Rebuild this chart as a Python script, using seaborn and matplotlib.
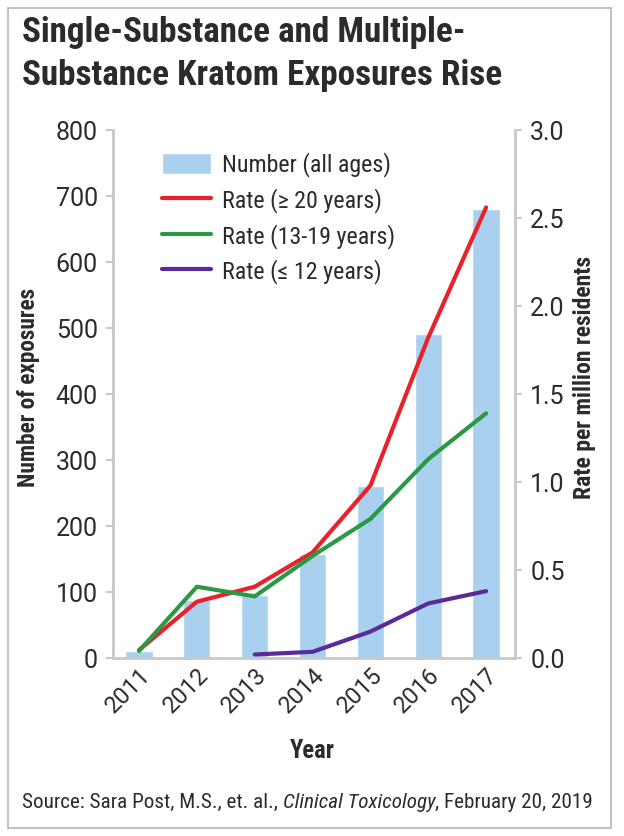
import matplotlib
matplotlib.use("Agg")
import matplotlib.pyplot as plt
import matplotlib.font_manager as fm
from matplotlib.font_manager import FontProperties
import seaborn as sns
import pandas as pd
import numpy as np
from matplotlib.patches import Rectangle

years = ["2011", "2012", "2013", "2014", "2015", "2016", "2017"]
number_all = [11, 88, 96, 158, 260, 491, 680]
rate_20plus = [0.045, 0.32, 0.405, 0.60, 0.98, 1.82, 2.56]
rate_13_19 = [0.04, 0.405, 0.35, 0.58, 0.79, 1.13, 1.39]
rate_12under = [np.nan, np.nan, 0.02, 0.035, 0.15, 0.31, 0.38]

left_ticks = [0, 100, 200, 300, 400, 500, 600, 700, 800]
right_ticks = [0.0, 0.5, 1.0, 1.5, 2.0, 2.5, 3.0]

sns.set_theme(style="white")
plt.rcParams["font.family"] = ["Roboto", "DejaVu Sans"]


def _w(f):
    w = f.weight
    if isinstance(w, str):
        w = fm.weight_dict.get(w, 400)
    return w


def pick_condensed(bold, italic=False):
    prefs = ["Liberation Sans Narrow", "Roboto Condensed", "Open Sans Condensed",
             "Noto Sans Condensed", "DejaVu Sans Condensed", "Arial Narrow",
             "Noto Sans Display Condensed"]
    ents = fm.fontManager.ttflist

    def ok(f):
        st_ok = (f.style in ("italic", "oblique")) == italic
        return ((_w(f) >= 600) == bold) and st_ok and f.fname.lower().endswith((".ttf", ".otf"))

    for n in prefs:
        for f in ents:
            if f.name == n and ok(f):
                return f.fname
    cands = [f for f in ents if ok(f) and (
        f.stretch in ("condensed", "semi-condensed", "extra-condensed", "ultra-condensed")
        or "Condensed" in f.name or "Narrow" in f.name
        or "condensed" in f.fname.lower() or "narrow" in f.fname.lower())]
    cands = [f for f in cands if "extra" not in f.fname.lower() and "ultra" not in f.fname.lower()
             and "semi" not in f.fname.lower()] or cands
    if cands:
        return cands[0].fname
    return None


CB = pick_condensed(True)
CR = pick_condensed(False)
CI = pick_condensed(False, True)


def fp(kind, size):
    path = {"b": CB, "r": CR, "i": CI}[kind]
    if path:
        return FontProperties(fname=path, size=size)
    return FontProperties(family=["Roboto", "DejaVu Sans"], size=size,
                          weight="bold" if kind == "b" else "normal",
                          style="italic" if kind == "i" else "normal")


BAR = "#a9d1ef"
RED = "#e8212b"
GREEN = "#2a9944"
PURPLE = "#5a2a98"
SPINE = "#c9c9c9"
TXT = "#2b2b2b"

df = pd.DataFrame({"year": years, "num": number_all, "pos": range(len(years)),
                   "r20": rate_20plus, "r13": rate_13_19, "r12": rate_12under})

fig = plt.figure(figsize=(6.24, 8.36), dpi=100)
fig.patches.append(Rectangle((8/624, 1-828/836), (611-8)/624, (828-8)/836,
                             transform=fig.transFigure, fill=False,
                             edgecolor="#b5b5b5", linewidth=1.2))
renderer = fig.canvas.get_renderer()

ax = fig.add_axes([113/624, 1-658/836, (515-113)/624, (658-130)/836])
sns.barplot(data=df, x="year", y="num", ax=ax, color=BAR, width=0.47,
            saturation=1, label="Number (all ages)", zorder=1)
ax.set_ylim(0, 800)
ax.set_xlim(-0.45, 6.5)
ax.set_yticks(left_ticks)
ax.set_yticklabels([str(t) for t in left_ticks])

ax2 = ax.twinx()
sns.lineplot(data=df, x="pos", y="r20", ax=ax2, color=RED, linewidth=3, label="Rate (≥ 20 years)")
sns.lineplot(data=df, x="pos", y="r13", ax=ax2, color=GREEN, linewidth=3, label="Rate (13-19 years)")
sns.lineplot(data=df, x="pos", y="r12", ax=ax2, color=PURPLE, linewidth=3, label="Rate (≤ 12 years)")
ax2.set_ylim(0, 3.0)
ax2.set_xlim(-0.45, 6.5)
ax2.set_yticks(right_ticks)
ax2.set_yticklabels([f"{t:.1f}" for t in right_ticks])

for a in (ax, ax2):
    for s in a.spines.values():
        s.set_color(SPINE)
        s.set_linewidth(1.8)
    a.spines["top"].set_visible(False)
    a.tick_params(axis="y", length=5, width=1.5, color=SPINE, labelsize=18,
                  labelcolor=TXT, pad=6)
ax.tick_params(axis="x", length=0, labelsize=17, labelcolor=TXT, pad=4)
for lab in ax.get_xticklabels():
    lab.set_rotation(45)
    lab.set_ha("right")
    lab.set_rotation_mode("anchor")
ax2.tick_params(axis="y", pad=6)


def fit(kind, text, target_px, size0=18):
    t = fig.text(0, 0, text, fontproperties=fp(kind, size0))
    w = t.get_window_extent(renderer).width
    t.remove()
    return size0 * target_px / w


s_ylab = fit("b", "Number of exposures", 200)
s_rlab = fit("b", "Rate per million residents", 243)
s_year = fit("b", "Year", 45)
ax.set_xlabel("Year", fontproperties=fp("b", s_year), color=TXT)
ax.set_ylabel("Number of exposures", fontproperties=fp("b", s_ylab), color=TXT)
ax2.set_ylabel("Rate per million residents", fontproperties=fp("b", s_rlab), color=TXT)
ax_w, ax_h = 515 - 113, 658 - 130
ax.xaxis.set_label_coords((312 - 113) / ax_w, -(751 - 658) / ax_h)
ax.yaxis.set_label_coords((29 - 113) / ax_w, (658 - 387) / ax_h)
ax2.yaxis.set_label_coords((585 - 113) / ax_w, (658 - 377) / ax_h)
ax.xaxis.label.set_va("center")
ax.yaxis.label.set_va("center")
ax2.yaxis.label.set_va("center")

h1, l1 = ax.get_legend_handles_labels()
h2, l2 = ax2.get_legend_handles_labels()
if ax2.get_legend():
    ax2.get_legend().remove()
if ax.get_legend():
    ax.get_legend().remove()
s_leg = fit("r", "Number (all ages)", 169)
leg = ax2.legend(h1 + h2, l1 + l2, loc="upper left", bbox_to_anchor=(0.085, 0.985),
                 frameon=False, prop=fp("r", s_leg),
                 handlelength=49 / (s_leg * 100 / 72), handleheight=1.0,
                 handletextpad=11 / (s_leg * 100 / 72),
                 labelspacing=0.45, borderaxespad=0.2)
for t in leg.get_texts():
    t.set_color(TXT)

s_title = fit("b", "Substance Kratom Exposures Rise", 481, 26)
fig.text(22/624, 1-16/836, "Single-Substance and Multiple-", fontproperties=fp("b", s_title),
         color=TXT, va="top", ha="left")
fig.text(22/624, 1-59/836, "Substance Kratom Exposures Rise", fontproperties=fp("b", s_title),
         color=TXT, va="top", ha="left")

# Source line with italic journal name, fitted to the reference width
parts = [("Source: Sara Post, M.S., et. al., ", "r"),
         ("Clinical Toxicology", "i"),
         (", February 20, 2019", "r")]


def place(size, draw=True):
    x = 22/624
    y = 1-808/836
    made = []
    for txt, kind in parts:
        t = fig.text(x, y, txt, fontproperties=fp(kind, size), color=TXT,
                     ha="left", va="baseline")
        made.append(t)
        bb = t.get_window_extent(renderer)
        x = fig.transFigure.inverted().transform((bb.x1, bb.y0))[0]
    width = (x - 22/624) * 624
    if not draw:
        for t in made:
            t.remove()
    return width


w0 = place(14, draw=False)
place(14 * 574 / w0)

fig.savefig("out.png", dpi=100)
